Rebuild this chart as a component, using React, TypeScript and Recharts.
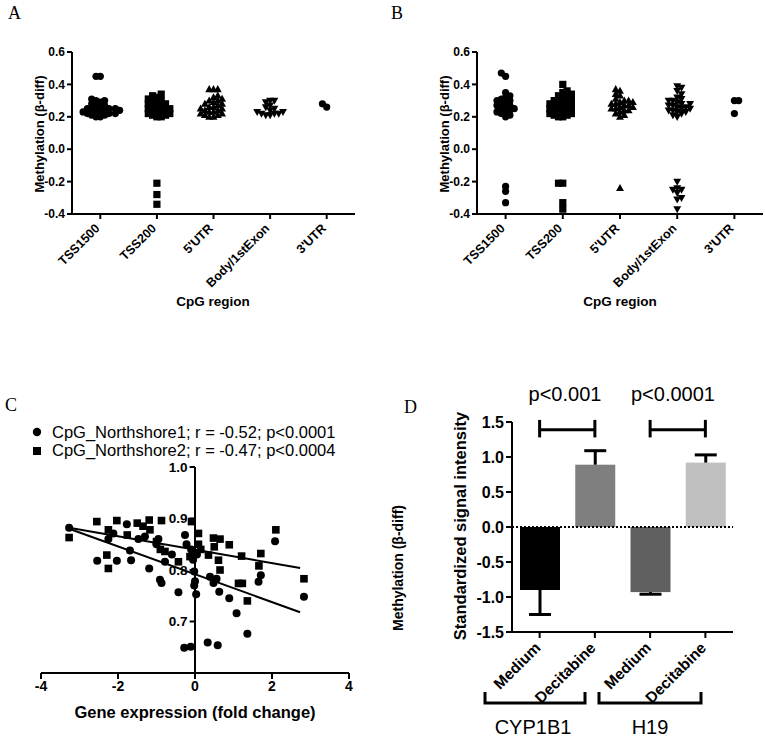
import React from 'react';
import {
  ScatterChart,
  Scatter,
  BarChart,
  Bar,
  Cell,
  XAxis,
  YAxis,
  ReferenceLine,
} from 'recharts';

// ---- panel A / B : methylation by CpG region ----
const regions = ['TSS1500', 'TSS200', "5'UTR", 'Body/1stExon', "3'UTR"];
const regionTicks = [0, 1, 2, 3, 4];
const methTicks = [-0.4, -0.2, 0, 0.2, 0.4, 0.6];

const aTss1500 = [0.45, 0.45, 0.31, 0.3, 0.3, 0.29, 0.28, 0.27, 0.26, 0.26, 0.25, 0.25, 0.25, 0.24, 0.24, 0.24, 0.23, 0.23, 0.23, 0.22, 0.22, 0.22, 0.21, 0.21, 0.2, 0.2];
const aTss200 = [0.34, 0.33, 0.32, 0.31, 0.3, 0.3, 0.29, 0.28, 0.28, 0.27, 0.27, 0.26, 0.25, 0.25, 0.24, 0.24, 0.23, 0.23, 0.22, 0.22, 0.21, 0.21, 0.2, 0.2, -0.21, -0.28, -0.34];
const aUtr5 = [0.37, 0.37, 0.37, 0.33, 0.32, 0.31, 0.3, 0.3, 0.29, 0.28, 0.28, 0.27, 0.26, 0.26, 0.25, 0.25, 0.24, 0.24, 0.23, 0.23, 0.22, 0.22, 0.21, 0.21, 0.2, 0.2];
const aBody = [0.3, 0.3, 0.29, 0.27, 0.26, 0.25, 0.24, 0.23, 0.23, 0.22, 0.22, 0.22, 0.21, 0.21];
const aUtr3 = [0.26, 0.28];

const bTss1500 = [0.47, 0.45, 0.35, 0.33, 0.32, 0.31, 0.3, 0.3, 0.29, 0.28, 0.27, 0.27, 0.26, 0.25, 0.25, 0.24, 0.23, 0.23, 0.22, 0.21, 0.2, -0.23, -0.26, -0.33];
const bTss200 = [0.4, 0.36, 0.35, 0.34, 0.33, 0.33, 0.32, 0.31, 0.3, 0.3, 0.29, 0.29, 0.28, 0.28, 0.27, 0.27, 0.26, 0.26, 0.25, 0.25, 0.24, 0.24, 0.23, 0.23, 0.22, 0.22, 0.21, 0.21, 0.2, 0.2, -0.21, -0.21, -0.33, -0.37];
const bUtr5 = [0.37, 0.36, 0.34, 0.33, 0.31, 0.3, 0.3, 0.29, 0.29, 0.28, 0.28, 0.27, 0.27, 0.26, 0.26, 0.25, 0.25, 0.24, 0.24, 0.23, 0.22, 0.21, 0.2, -0.24];
const bBody = [0.39, 0.38, 0.36, 0.34, 0.32, 0.31, 0.3, 0.3, 0.29, 0.28, 0.28, 0.27, 0.27, 0.26, 0.26, 0.25, 0.25, 0.24, 0.24, 0.23, 0.23, 0.22, 0.21, 0.2, -0.2, -0.24, -0.25, -0.25, -0.27, -0.3, -0.31, -0.37];
const bUtr3 = [0.3, 0.3, 0.22];

const markerKinds = ['circle', 'square', 'triangle', 'triangleDown', 'circle'];

// ---- panel C : methylation vs expression ----
const northshore1 = [
  [-3.27, 0.882], [-2.54, 0.818], [-2.03, 0.818], [-1.66, 0.819], [-1.77, 0.889], [-1.47, 0.86],
  [-2.12, 0.871], [-2.25, 0.86], [-1.69, 0.838], [-1.19, 0.803], [-0.91, 0.781], [-0.87, 0.775],
  [-0.43, 0.757], [-1.0, 0.85], [-0.78, 0.816], [-0.26, 0.868], [-0.22, 0.85], [-0.05, 0.82],
  [-0.02, 0.797], [0.0, 0.778], [0.03, 0.753], [0.39, 0.787], [0.56, 0.783], [0.48, 0.775],
  [0.63, 0.758], [0.89, 0.745], [1.08, 0.716], [1.36, 0.676], [1.65, 0.777], [1.71, 0.79],
  [2.08, 0.856], [2.83, 0.748], [-0.28, 0.649], [-0.11, 0.651], [0.33, 0.659], [0.59, 0.654],
  [-1.3, 0.865], [-0.95, 0.86], [-0.6, 0.83], [-0.1, 0.84], [0.05, 0.83], [-0.02, 0.77],
];
const northshore2 = [
  [-3.27, 0.863], [-2.55, 0.894], [-2.25, 0.878], [-2.03, 0.896], [-1.76, 0.868], [-1.5, 0.891],
  [-1.19, 0.897], [-0.87, 0.896], [-1.17, 0.878], [-2.29, 0.829], [-2.25, 0.803], [-1.0, 0.855],
  [-0.78, 0.836], [-0.43, 0.816], [-0.09, 0.894], [0.09, 0.871], [0.09, 0.85], [-0.13, 0.826],
  [0.48, 0.862], [0.65, 0.86], [0.89, 0.849], [0.35, 0.829], [0.61, 0.819], [0.65, 0.8],
  [1.21, 0.827], [1.13, 0.774], [1.23, 0.774], [1.36, 0.74], [1.71, 0.832], [1.66, 0.808],
  [2.1, 0.878], [2.83, 0.783], [-1.35, 0.885], [-0.9, 0.84], [0.15, 0.84], [0.5, 0.845],
];
const fit1 = [[-3.27, 0.88], [2.73, 0.718]];
const fit2 = [[-3.27, 0.882], [2.73, 0.804]];
const exprTicks = [-4, -2, 0, 2, 4];
const corrTicks = [0.7, 0.8, 0.9, 1.0];

// ---- panel D : signal intensity ----
const conditions = ['Medium', 'Decitabine', 'Medium', 'Decitabine'];
const genes = ['CYP1B1', 'CYP1B1', 'H19', 'H19'];
const means = [-0.9, 0.89, -0.93, 0.92];
const semDown = [0.35, 0, 0.03, 0];
const semUp = [0, 0.2, 0, 0.11];
const barColors = ['#000000', '#7f7f7f', '#606060', '#c0c0c0'];
const signalTicks = [-1.5, -1, -0.5, 0, 0.5, 1, 1.5];

const FONT = '"Liberation Sans", Arial, sans-serif';

// simple beeswarm: returns horizontal offsets (in category units)
function swarm(values: number[], pxPerY: number, bandPx: number, d: number) {
  const order = values.map((_, i) => i).sort((a, b) => values[a] - values[b]);
  const placed: { x: number; y: number }[] = [];
  const off = new Array(values.length).fill(0);
  let flip = 1;
  for (const i of order) {
    const y = values[i] * pxPerY;
    let chosen = 0;
    for (let k = 0; k < 60; k++) {
      const cands = k === 0 ? [0] : [flip * k * d * 0.5, -flip * k * d * 0.5];
      const ok = cands.find((c) => placed.every((p) => Math.hypot(p.x - c, p.y - y) >= d));
      if (ok !== undefined) {
        chosen = ok;
        break;
      }
    }
    flip = -flip;
    placed.push({ x: chosen, y });
    off[i] = chosen / bandPx;
  }
  return off;
}

const Marker = ({ cx, cy, kind, r }: any) => {
  if (cx == null || cy == null) return null;
  if (kind === 'square') return <rect x={cx - r} y={cy - r} width={2 * r} height={2 * r} fill="#000" />;
  if (kind === 'triangle')
    return <polygon points={`${cx},${cy - r * 1.15} ${cx - r * 1.1},${cy + r * 0.8} ${cx + r * 1.1},${cy + r * 0.8}`} fill="#000" />;
  if (kind === 'triangleDown')
    return <polygon points={`${cx},${cy + r * 1.15} ${cx - r * 1.1},${cy - r * 0.8} ${cx + r * 1.1},${cy - r * 0.8}`} fill="#000" />;
  return <circle cx={cx} cy={cy} r={r} fill="#000" />;
};

const RegionTick = ({ x, y, payload }: any) => (
  <g transform={`translate(${x - 3},${y + 5})`}>
    <text x={0} y={0} dy="0.35em" textAnchor="end" transform="rotate(-45)" fontSize={12.5} fontWeight="bold" fill="#000" fontFamily={FONT}>
      {regions[payload.value]}
    </text>
  </g>
);

const CondTick = ({ x, y, payload, index }: any) => (
  <g transform={`translate(${x - 2},${y + 5})`}>
    <text x={0} y={0} dy="0.35em" textAnchor="end" transform="rotate(-45)" fontSize={15.5} fontWeight="bold" fill="#000" fontFamily={FONT}>
      {conditions[index ?? 0] ?? payload.value}
    </text>
  </g>
);

const axisStyle = { stroke: '#000', strokeWidth: 2 };

const MethPanel = ({ groups, left, width, marginLeft, marginRight }: any) => {
  const plotW = width - marginLeft - 72 - marginRight;
  const band = plotW / 5;
  const series = groups.map((vals: number[], gi: number) => {
    const off = swarm(vals, 162, band, 4.3);
    return vals.map((v, i) => ({ x: gi + off[i], y: v }));
  });
  return (
    <div style={{ position: 'absolute', left, top: 0 }}>
      <ScatterChart width={width} height={320} margin={{ top: 52, right: marginRight, bottom: 36, left: marginLeft }}>
        <XAxis
          type="number"
          dataKey="x"
          domain={[-0.5, 4.5]}
          ticks={regionTicks}
          interval={0}
          height={70}
          axisLine={axisStyle}
          tickLine={axisStyle}
          tickSize={5}
          tick={<RegionTick />}
        />
        <YAxis
          type="number"
          dataKey="y"
          domain={[-0.4, 0.6]}
          ticks={methTicks}
          width={72}
          axisLine={axisStyle}
          tickLine={axisStyle}
          tickSize={5}
          tickFormatter={(v: number) => v.toFixed(1)}
          tick={{ fontSize: 12, fontWeight: 'bold', fill: '#000', fontFamily: FONT }}
        />
        {series.map((d: any[], gi: number) => (
          <Scatter
            key={gi}
            data={d}
            isAnimationActive={false}
            shape={(p: any) => <Marker cx={p.cx} cy={p.cy} kind={markerKinds[gi]} r={3.6} />}
          />
        ))}
      </ScatterChart>
    </div>
  );
};

const toXY = (arr: number[][]) => arr.map(([x, y]) => ({ x, y }));

const CorrPanel = () => {
  const s1 = toXY(northshore1);
  const s2 = toXY(northshore2);
  const f1 = toXY(fit1);
  const f2 = toXY(fit2);
  return (
    <div style={{ position: 'absolute', left: 0, top: 380 }}>
      <ScatterChart width={380} height={360} margin={{ top: 87, right: 31, bottom: 39, left: 41 }}>
        <XAxis
          type="number"
          dataKey="x"
          domain={[-4, 4]}
          ticks={exprTicks}
          interval={0}
          height={28}
          axisLine={axisStyle}
          tickLine={axisStyle}
          tickSize={6}
          tick={{ fontSize: 14, fontWeight: 'bold', fill: '#000', fontFamily: FONT }}
        />
        <YAxis type="number" dataKey="y" domain={[0.6, 1.0]} hide width={0} />
        <ReferenceLine x={0} stroke="#000" strokeWidth={2} />
        {corrTicks.map((t) => (
          <ReferenceLine
            key={t}
            segment={[{ x: -0.14, y: t }, { x: 0, y: t }]}
            stroke="#000"
            strokeWidth={2}
            label={{ value: t.toFixed(1), position: 'left', offset: 2, fontSize: 13.5, fontWeight: 'bold', fill: '#000', fontFamily: FONT }}
          />
        ))}
        <Scatter data={s1} isAnimationActive={false} shape={(p: any) => <Marker cx={p.cx} cy={p.cy} kind="circle" r={4} />} />
        <Scatter data={s2} isAnimationActive={false} shape={(p: any) => <Marker cx={p.cx} cy={p.cy} kind="square" r={3.8} />} />
        <ReferenceLine segment={[f1[0], f1[1]]} stroke="#000" strokeWidth={2} />
        <ReferenceLine segment={[f2[0], f2[1]]} stroke="#000" strokeWidth={2} />
      </ScatterChart>
    </div>
  );
};

const BarWithErr = (props: any) => {
  const { x, y, width, height, index } = props;
  const i = index ?? 0;
  const top = Math.min(y, y + height);
  const h = Math.abs(height);
  const v = means[i];
  const ppu = h / Math.abs(v);
  const cx = x + width / 2;
  const neg = v < 0;
  const err = neg ? semDown[i] : semUp[i];
  const start = neg ? top + h : top;
  const end = neg ? start + err * ppu : start - err * ppu;
  return (
    <g>
      <rect x={x} y={top} width={width} height={h} fill={barColors[i]} />
      {err > 0 && (
        <g>
          <line x1={cx} x2={cx} y1={start} y2={end} stroke="#000" strokeWidth={3} />
          <line x1={cx - 11} x2={cx + 11} y1={end} y2={end} stroke="#000" strokeWidth={3} />
        </g>
      )}
    </g>
  );
};

const SignalPanel = () => {
  const data = means.map((m, i) => ({ key: `${genes[i]} ${conditions[i]}`, mean: m }));
  const pairs = [
    [data[0].key, data[1].key],
    [data[2].key, data[3].key],
  ];
  return (
    <div style={{ position: 'absolute', left: 380, top: 380 }}>
      <BarChart width={385} height={360} data={data} margin={{ top: 42, right: 32, bottom: 38, left: 82 }} barSize={40}>
        <XAxis
          dataKey="key"
          interval={0}
          height={70}
          axisLine={axisStyle}
          tickLine={axisStyle}
          tickSize={6}
          tick={<CondTick />}
        />
        <YAxis
          type="number"
          domain={[-1.5, 1.5]}
          ticks={signalTicks}
          width={50}
          axisLine={axisStyle}
          tickLine={axisStyle}
          tickSize={6}
          tickFormatter={(v: number) => v.toFixed(1)}
          tick={{ fontSize: 16, fontWeight: 'bold', fill: '#000', fontFamily: FONT }}
        />
        <ReferenceLine y={0} stroke="#000" strokeWidth={2} strokeDasharray="2 2" />
        <Bar dataKey="mean" isAnimationActive={false} shape={<BarWithErr />}>
          {data.map((d, i) => (
            <Cell key={d.key} fill={barColors[i]} />
          ))}
        </Bar>
        {pairs.map(([a, b]) => (
          <React.Fragment key={a}>
            <ReferenceLine segment={[{ x: a, y: 1.39 }, { x: b, y: 1.39 }]} stroke="#000" strokeWidth={3} ifOverflow="visible" />
            <ReferenceLine segment={[{ x: a, y: 1.28 }, { x: a, y: 1.53 }]} stroke="#000" strokeWidth={3} ifOverflow="visible" />
            <ReferenceLine segment={[{ x: b, y: 1.28 }, { x: b, y: 1.53 }]} stroke="#000" strokeWidth={3} ifOverflow="visible" />
          </React.Fragment>
        ))}
      </BarChart>
    </div>
  );
};

export default function App() {
  const bold = { fontFamily: FONT, fontWeight: 'bold' as const, fill: '#000' };
  return (
    <div style={{ position: 'absolute', left: 0, top: 0, width: 765, height: 740, background: '#fff' }}>
      <MethPanel groups={[aTss1500, aTss200, aUtr5, aBody, aUtr3]} left={0} width={380} marginLeft={0} marginRight={25} />
      <MethPanel groups={[bTss1500, bTss200, bUtr5, bBody, bUtr3]} left={380} width={385} marginLeft={25} marginRight={2} />
      <CorrPanel />
      <SignalPanel />
      <svg width={765} height={740} style={{ position: 'absolute', left: 0, top: 0, pointerEvents: 'none' }}>
        <g fontFamily='"Liberation Serif", "Times New Roman", serif' fontSize={18} fill="#000">
          <text x={8} y={19}>A</text>
          <text x={391} y={19}>B</text>
          <text x={5} y={411}>C</text>
          <text x={404} y={413}>D</text>
        </g>
        <text transform="translate(44,134) rotate(-90)" textAnchor="middle" fontSize={13} {...bold}>Methylation (β-diff)</text>
        <text transform="translate(449,134) rotate(-90)" textAnchor="middle" fontSize={13} {...bold}>Methylation (β-diff)</text>
        <text x={213} y={306} textAnchor="middle" fontSize={13.5} {...bold}>CpG region</text>
        <text x={620} y={306} textAnchor="middle" fontSize={13.5} {...bold}>CpG region</text>
        <text x={195} y={718} textAnchor="middle" fontSize={16.5} {...bold}>Gene expression (fold change)</text>
        <text transform="translate(403,568) rotate(-90)" textAnchor="middle" fontSize={14} {...bold}>Methylation (β-diff)</text>
        <text transform="translate(466,526) rotate(-90)" textAnchor="middle" fontSize={16.5} {...bold}>Standardized signal intensity</text>
        <g fontFamily={FONT} fontSize={20} fill="#000" textAnchor="middle">
          <text x={565} y={401}>p&lt;0.001</text>
          <text x={673} y={401}>p&lt;0.0001</text>
          <text x={533} y={734}>CYP1B1</text>
          <text x={650} y={734}>H19</text>
        </g>
        <g fill="none" stroke="#000" strokeWidth={3}>
          <polyline points="485,692 485,703 585,703 585,692" />
          <polyline points="599,692 599,703 701,703 701,692" />
        </g>
        <g fontFamily={FONT} fontSize={16.5} fill="#000">
          <circle cx={37} cy={432} r={4.2} fill="#000" />
          <text x={52} y={438}>CpG_Northshore1; r = -0.52; p&lt;0.0001</text>
          <rect x={33} y={447} width={8} height={8} fill="#000" />
          <text x={52} y={456}>CpG_Northshore2; r = -0.47; p&lt;0.0004</text>
        </g>
      </svg>
    </div>
  );
}
